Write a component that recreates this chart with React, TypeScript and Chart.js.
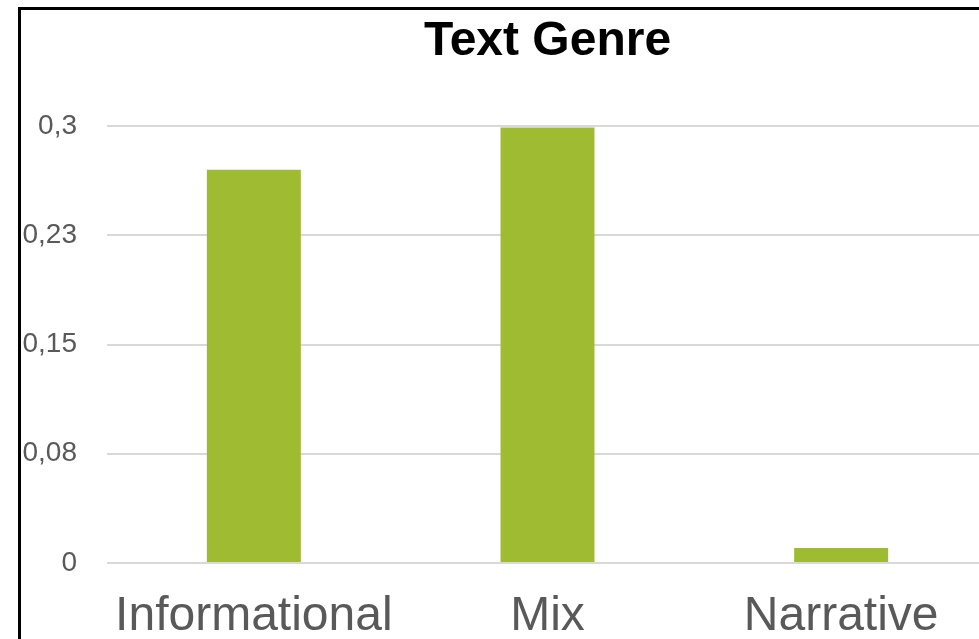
import React, { useEffect, useRef } from "react";
import { Chart, registerables } from "chart.js";

Chart.register(...registerables);

const categories = ["Informational", "Mix", "Narrative"];
const values = [0.27, 0.299, 0.0103];
const yTickLabels = ["0", "0,08", "0,15", "0,23", "0,3"];
const chartTitle = "Text Genre";

const FONT = "'Liberation Sans', Arial, Helvetica, sans-serif";

export default function App() {
  const ref = useRef<HTMLCanvasElement | null>(null);

  useEffect(() => {
    if (!ref.current) return;
    const chart = new Chart(ref.current, {
      type: "bar",
      data: {
        labels: categories,
        datasets: [
          {
            data: values,
            backgroundColor: "#9fbb31",
            borderWidth: 0,
            categoryPercentage: 1,
            barPercentage: 0.32,
          },
        ],
      },
      options: {
        responsive: false,
        animation: false,
        devicePixelRatio: 1,
        layout: { padding: 0 },
        plugins: {
          legend: { display: false },
          tooltip: { enabled: false },
          title: {
            display: true,
            text: chartTitle,
            color: "#000000",
            font: { family: FONT, size: 48, weight: "bold" },
            padding: { top: 3, bottom: 55.4 },
          },
        },
        scales: {
          x: {
            grid: { display: false },
            border: { display: false },
            ticks: {
              color: "#595959",
              font: { family: FONT, size: 48 },
              padding: 17,
              maxRotation: 0,
            },
            afterFit: (scale: any) => {
              scale.height = 127;
            },
          },
          y: {
            min: 0,
            max: 0.3,
            grid: { color: "#d9d9d9", lineWidth: 2, drawTicks: false },
            border: { display: false },
            ticks: {
              stepSize: 0.075,
              color: "#595959",
              font: { family: FONT, size: 28 },
              padding: 30,
              callback: (_v: any, i: number) => yTickLabels[i],
            },
            afterFit: (scale: any) => {
              scale.width = 86;
            },
          },
          yRight: {
            type: "linear",
            position: "right",
            display: true,
            grid: { display: false },
            border: { display: false },
            ticks: { display: false },
            afterFit: (scale: any) => {
              scale.width = 86;
            },
          },
        },
      },
    });
    return () => chart.destroy();
  }, []);

  return (
    <div
      style={{
        position: "fixed",
        left: 0,
        top: 0,
        width: 979,
        height: 639,
        overflow: "hidden",
        background: "#ffffff",
      }}
    >
      <div
        style={{
          position: "absolute",
          left: 18,
          top: 7,
          width: 1100,
          height: 720,
          border: "3px solid #000000",
          overflow: "hidden",
          background: "#ffffff",
        }}
      >
        <canvas
          ref={ref}
          width={1053}
          height={680}
          style={{ display: "block", width: 1053, height: 680 }}
        />
      </div>
    </div>
  );
}
